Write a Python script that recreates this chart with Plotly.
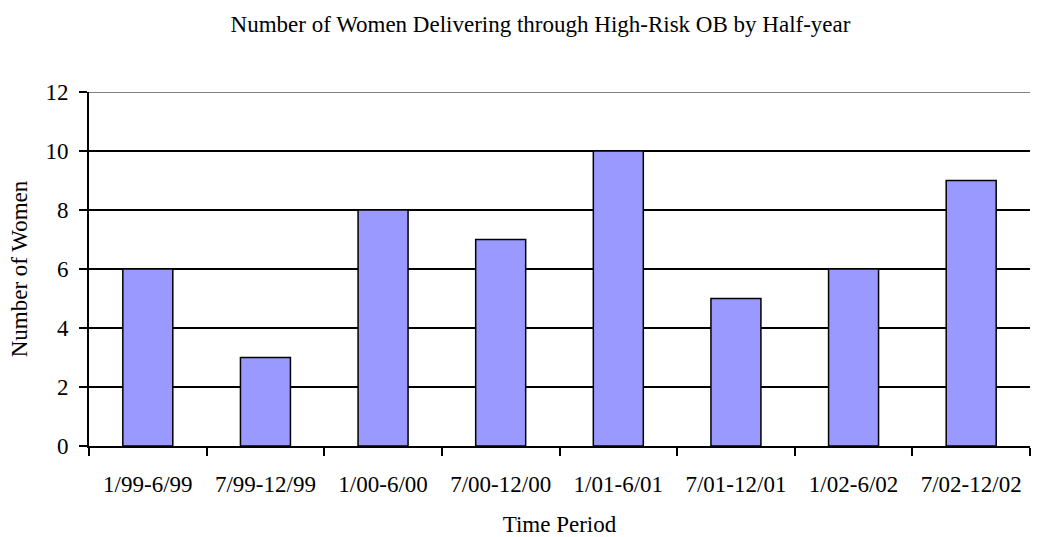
import plotly.graph_objects as go

categories = ["1/99-6/99", "7/99-12/99", "1/00-6/00", "7/00-12/00",
              "1/01-6/01", "7/01-12/01", "1/02-6/02", "7/02-12/02"]
women = [6, 3, 8, 7, 10, 5, 6, 9]
y_ticks = [0, 2, 4, 6, 8, 10, 12]

font = "Liberation Serif, Times New Roman, serif"
FS = 23

W, H = 1041, 537

fig = go.Figure(go.Bar(
    x=categories, y=women,
    marker=dict(color="#9999FF", line=dict(color="black", width=1.5)),
    width=0.425,
))

fig.add_shape(type="line", xref="paper", yref="y", x0=0, x1=1, y0=12, y1=12,
              line=dict(color="#808080", width=2), layer="above")

fig.update_layout(
    width=W, height=H,
    paper_bgcolor="white", plot_bgcolor="white",
    margin=dict(l=89, r=11, t=92, b=91, autoexpand=False),
    font=dict(family=font, size=FS, color="black"),
    title=dict(text="Number of Women Delivering through High-Risk OB by Half-year",
               x=540.5 / W, xanchor="center", y=1 - 24 / H, yanchor="middle",
               font=dict(family=font, size=FS, color="black")),
    showlegend=False,
    xaxis=dict(
        title=dict(text="Time Period", font=dict(family=font, size=FS), standoff=22),
        showline=True, linecolor="black", linewidth=2,
        ticks="outside", ticklen=8, tickwidth=2, tickcolor="black",
        tickson="boundaries", showgrid=False,
        tickfont=dict(family=font, size=FS),
        ticklabelstandoff=16,
        automargin=False,
    ),
    yaxis=dict(
        title=dict(text="Number of Women", font=dict(family=font, size=FS), standoff=11),
        range=[0, 12], tickvals=y_ticks,
        showline=True, linecolor="black", linewidth=2,
        ticks="outside", ticklen=8, tickwidth=2, tickcolor="black",
        showgrid=True, gridcolor="black", gridwidth=2,
        zeroline=False,
        tickfont=dict(family=font, size=FS),
        ticklabelstandoff=6,
        automargin=False,
    ),
)

fig.write_html("out.html",
               config={"displayModeBar": False},
               post_script="document.body.style.margin='0';document.body.style.overflow='hidden';")
